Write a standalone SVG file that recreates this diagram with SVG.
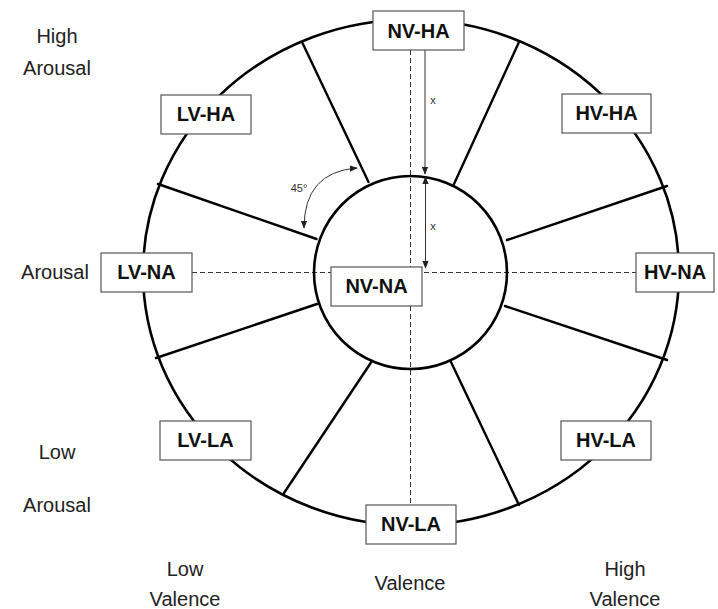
<svg xmlns="http://www.w3.org/2000/svg" width="718" height="609" viewBox="0 0 718 609">
  <style>
    .ring { fill: none; stroke: #000; stroke-width: 2.6; }
    .spoke { stroke: #000; stroke-width: 2.4; stroke-linecap: round; }
    .axis { stroke: #333; stroke-width: 1; stroke-dasharray: 5 3; fill: none; }
    .dim { stroke: #333; stroke-width: 1; fill: none; }
    .box { fill: #fff; stroke: #555; stroke-width: 1.2; }
    .node { font-family: "Liberation Sans", Arial, sans-serif; font-weight: bold; font-size: 20px; fill: #111; text-anchor: middle; }
    .lab { font-family: "Liberation Sans", Arial, sans-serif; font-size: 20px; fill: #222; text-anchor: middle; }
    .small { font-family: "Liberation Sans", Arial, sans-serif; font-size: 11px; fill: #333; text-anchor: middle; }
  </style>
  <defs>
    <marker id="head" viewBox="0 0 10 10" refX="9" refY="5" markerWidth="8" markerHeight="8" markerUnits="userSpaceOnUse" orient="auto-start-reverse">
      <path d="M0,1 L10,5 L0,9 Z" fill="#222"/>
    </marker>
  </defs>
  <rect width="718" height="609" fill="#fff"/>

  <!-- valence / arousal axes -->
  <g id="axes">
    <line class="axis" x1="410.5" y1="50" x2="410.5" y2="505"/>
    <line class="axis" x1="192" y1="272.5" x2="636" y2="272.5"/>
  </g>

  <!-- outer and inner rings -->
  <g id="rings">
    <ellipse class="ring" cx="411" cy="272.5" rx="268" ry="253"/>
    <circle class="ring" cx="410.5" cy="272.5" r="96.5"/>
  </g>

  <!-- sector dividers -->
  <g id="connectors">
    <line class="spoke" x1="368.5" y1="182" x2="302" y2="42"/>
    <line class="spoke" x1="454" y1="184" x2="519" y2="42"/>
    <line class="spoke" x1="316.5" y1="239" x2="158" y2="184"/>
    <line class="spoke" x1="507" y1="240" x2="667" y2="186"/>
    <line class="spoke" x1="317" y1="304" x2="156" y2="358"/>
    <line class="spoke" x1="505" y1="306" x2="667" y2="360"/>
    <line class="spoke" x1="372" y1="361" x2="284" y2="493"/>
    <line class="spoke" x1="451" y1="362" x2="519" y2="505"/>
    <!-- distance markers -->
    <line class="dim" x1="425" y1="50" x2="425" y2="174" marker-end="url(#head)"/>
    <line class="dim" x1="425.5" y1="177" x2="425.5" y2="268" marker-start="url(#head)" marker-end="url(#head)"/>
    <!-- 45 degree sweep -->
    <path class="dim" d="M304,228 Q304,172 357,168" marker-start="url(#head)" marker-end="url(#head)"/>
  </g>

  <text class="small" x="433" y="104">x</text>
  <text class="small" x="433" y="230">x</text>
  <text class="small" x="299" y="192">45°</text>

  <g id="nv-ha"><rect class="box" x="373" y="11" width="91" height="39"/><text class="node" x="418.5" y="37.5">NV-HA</text></g>
  <g id="lv-ha"><rect class="box" x="161" y="95" width="90" height="39"/><text class="node" x="206" y="121">LV-HA</text></g>
  <g id="hv-ha"><rect class="box" x="562" y="94" width="89" height="39"/><text class="node" x="606.5" y="120">HV-HA</text></g>
  <g id="lv-na"><rect class="box" x="101" y="253" width="91" height="39"/><text class="node" x="146.5" y="279">LV-NA</text></g>
  <g id="nv-na"><rect class="box" x="331" y="267" width="91" height="39"/><text class="node" x="376.5" y="293">NV-NA</text></g>
  <g id="hv-na"><rect class="box" x="636" y="253" width="78" height="39"/><text class="node" x="675" y="279">HV-NA</text></g>
  <g id="lv-la"><rect class="box" x="160" y="421" width="91" height="39"/><text class="node" x="205.5" y="447">LV-LA</text></g>
  <g id="hv-la"><rect class="box" x="561" y="421" width="90" height="39"/><text class="node" x="606" y="447">HV-LA</text></g>
  <g id="nv-la"><rect class="box" x="366" y="505" width="90" height="39"/><text class="node" x="411" y="531">NV-LA</text></g>

  <g id="labels">
    <text class="lab" x="57" y="43">High</text>
    <text class="lab" x="57" y="75">Arousal</text>
    <text class="lab" x="55" y="279">Arousal</text>
    <text class="lab" x="57" y="459">Low</text>
    <text class="lab" x="57" y="512">Arousal</text>
    <text class="lab" x="185" y="576">Low</text>
    <text class="lab" x="185" y="606">Valence</text>
    <text class="lab" x="410" y="590">Valence</text>
    <text class="lab" x="625" y="576">High</text>
    <text class="lab" x="625" y="606">Valence</text>
  </g>
</svg>
